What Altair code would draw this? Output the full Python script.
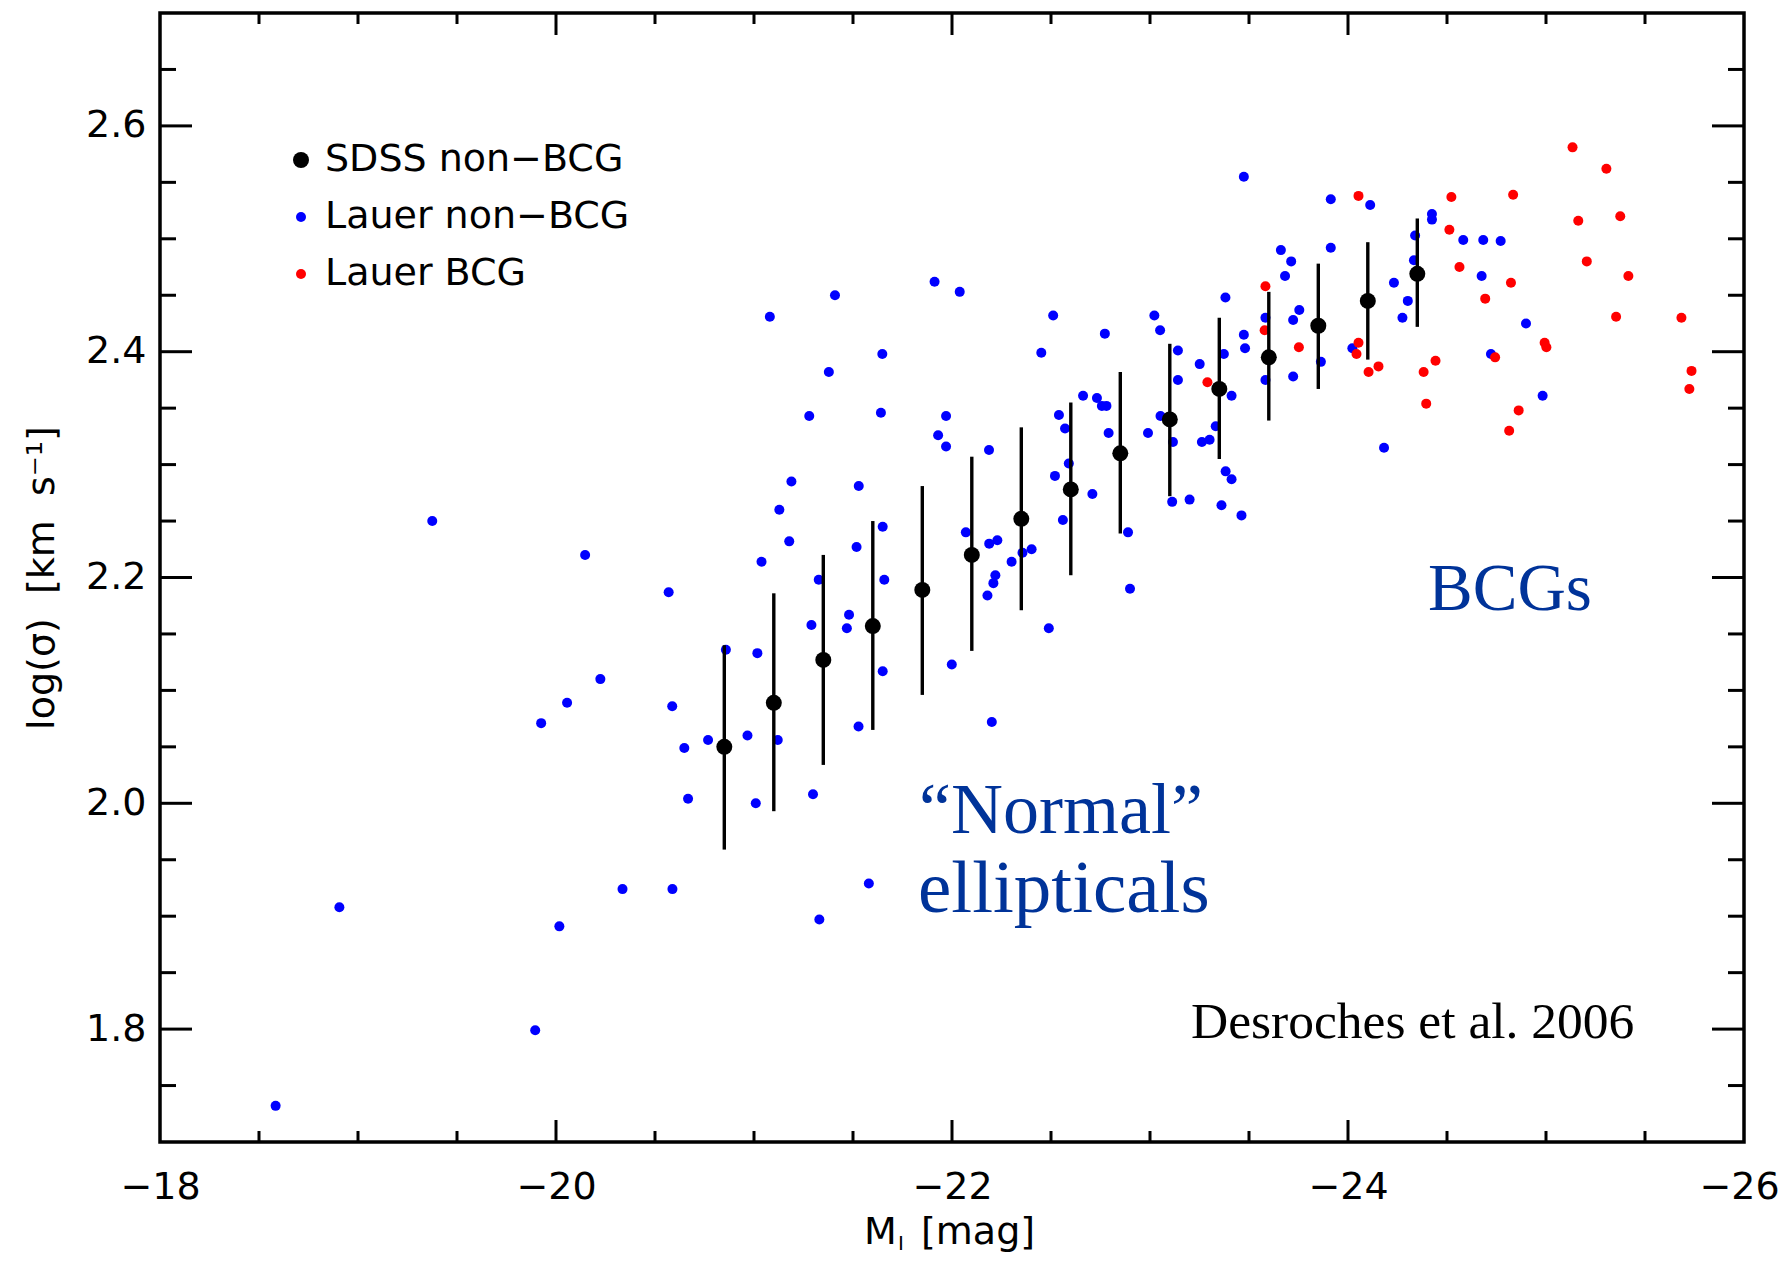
import altair as alt
import pandas as pd

# ---------------- data ----------------
sdss_mag = [-20.85, -21.10, -21.35, -21.60, -21.85, -22.10, -22.35, -22.60,
            -22.85, -23.10, -23.35, -23.60, -23.85, -24.10, -24.35]
sdss_logsig = [2.050, 2.089, 2.127, 2.157, 2.189, 2.220, 2.252, 2.278,
               2.310, 2.340, 2.367, 2.395, 2.423, 2.445, 2.469]
sdss_hi = [2.140, 2.186, 2.220, 2.250, 2.281, 2.307, 2.333, 2.355,
           2.382, 2.407, 2.430, 2.453, 2.478, 2.497, 2.518]
sdss_lo = [1.959, 1.993, 2.034, 2.065, 2.096, 2.135, 2.171, 2.202,
           2.239, 2.272, 2.305, 2.339, 2.367, 2.393, 2.422]

lauer_nonbcg_mag = [
    -18.584, -18.906, -19.375, -19.895, -19.925, -20.017, -20.056, -20.147, -20.224, -20.336,
    -20.569, -20.587, -20.588, -20.648, -20.667, -20.768, -20.858, -20.967, -21.009, -21.017,
    -21.038, -21.080, -21.120, -21.128, -21.178, -21.189, -21.279, -21.290, -21.298, -21.327,
    -21.330, -21.378, -21.409, -21.469, -21.480, -21.518, -21.528, -21.529, -21.580, -21.641,
    -21.648, -21.650, -21.650, -21.658, -21.912, -21.930, -21.970, -21.970, -21.999, -22.039,
    -22.070, -22.187, -22.179, -22.188, -22.201, -22.209, -22.219, -22.229, -22.301, -22.356,
    -22.402, -22.451, -22.489, -22.511, -22.520, -22.540, -22.560, -22.571, -22.590, -22.662,
    -22.709, -22.732, -22.757, -22.780, -22.772, -22.791, -22.889, -22.899, -22.990, -23.022,
    -23.051, -23.053, -23.112, -23.116, -23.141, -23.141, -23.200, -23.251, -23.262, -23.301,
    -23.332, -23.361, -23.373, -23.381, -23.382, -23.412, -23.412, -23.462, -23.474, -23.474,
    -23.480, -23.583, -23.583, -23.661, -23.682, -23.713, -23.723, -23.723, -23.754, -23.863,
    -23.913, -23.913, -24.022, -24.112, -24.182, -24.232, -24.275, -24.302, -24.333, -24.339,
    -24.424, -24.424, -24.582, -24.675, -24.683, -24.722, -24.771, -24.899, -24.983]
lauer_nonbcg_logsig = [
    1.732, 1.908, 2.250, 1.799, 2.071, 1.891, 2.089, 2.220, 2.110, 1.924,
    2.187, 2.086, 1.924, 2.049, 2.004, 2.056, 2.136, 2.060, 2.000, 2.133,
    2.214, 2.431, 2.056, 2.260, 2.232, 2.285, 2.343, 2.158, 2.008, 2.198,
    1.897, 2.382, 2.450, 2.155, 2.167, 2.227, 2.068, 2.281, 1.929, 2.346,
    2.398, 2.245, 2.117, 2.198, 2.462, 2.326, 2.343, 2.316, 2.123, 2.453,
    2.240, 2.313, 2.184, 2.230, 2.072, 2.195, 2.202, 2.233, 2.214, 2.222,
    2.225, 2.399, 2.155, 2.432, 2.290, 2.344, 2.251, 2.332, 2.301, 2.361,
    2.274, 2.359, 2.352, 2.352, 2.416, 2.328, 2.240, 2.190, 2.328, 2.432,
    2.419, 2.343, 2.267, 2.320, 2.401, 2.375, 2.269, 2.389, 2.320, 2.322,
    2.334, 2.264, 2.398, 2.448, 2.294, 2.287, 2.361, 2.255, 2.555, 2.415,
    2.403, 2.430, 2.375, 2.490, 2.467, 2.480, 2.428, 2.378, 2.437, 2.391,
    2.535, 2.492, 2.403, 2.530, 2.315, 2.461, 2.430, 2.445, 2.481, 2.503,
    2.522, 2.517, 2.499, 2.467, 2.499, 2.398, 2.498, 2.425, 2.361]

lauer_bcg_mag = [
    -23.290, -23.579, -23.583, -23.752, -24.043, -24.053, -24.053, -24.104, -24.154, -24.382,
    -24.395, -24.442, -24.512, -24.522, -24.563, -24.693, -24.743, -24.814, -24.823, -24.834,
    -24.862, -24.993, -25.002, -25.134, -25.163, -25.206, -25.305, -25.354, -25.375, -25.416,
    -25.684, -25.724, -25.735]
lauer_bcg_logsig = [
    2.373, 2.419, 2.458, 2.404, 2.398, 2.408, 2.538, 2.382, 2.387, 2.382,
    2.354, 2.392, 2.508, 2.537, 2.475, 2.447, 2.395, 2.330, 2.461, 2.539,
    2.348, 2.408, 2.404, 2.581, 2.516, 2.480, 2.562, 2.431, 2.520, 2.467,
    2.430, 2.367, 2.383]

series_names = ["SDSS non\u2212BCG", "Lauer non\u2212BCG", "Lauer BCG"]
series_colors = ["#000000", "#0000ff", "#ff0000"]
series_sizes = [256, 100, 100]

x_labels = [-18, -20, -22, -24, -26]
x_major_ticks = [-20, -22, -24]
x_minor_ticks = [-18.5, -19, -19.5, -20.5, -21, -21.5, -22.5, -23, -23.5,
                 -24.5, -25, -25.5]
y_labels = [1.8, 2.0, 2.2, 2.4, 2.6]
y_minor_ticks = [1.75, 1.85, 1.9, 1.95, 2.05, 2.1, 2.15, 2.25, 2.3, 2.35,
                 2.45, 2.5, 2.55, 2.65]

# ---------------- layout ----------------
W, H = 1584, 1129
SANS = "DejaVu Sans"
SERIF = "Liberation Serif"
ANN_BLUE = "#003399"
FS = 38

xscale = alt.Scale(domain=[-26, -18], reverse=True, nice=False, zero=False)
yscale = alt.Scale(domain=[1.7, 2.7], nice=False, zero=False)

# the rightmost label is nudged a few pixels so it is not clipped at the page edge
xaxis = alt.Axis(values=x_labels, format="d", ticks=False, domain=False, grid=False,
                 title=None, labelFont=SANS, labelFontSize=FS, labelColor="black",
                 labelPadding=26, labelFlush=False, labelOverlap=False, labelBound=False,
                 labelOffset={"condition": {"test": "datum.value <= -26", "value": -5},
                              "value": 0})
yaxis = alt.Axis(values=y_labels, format=".1f", ticks=False, domain=False, grid=False,
                 title="log(\u03c3)\u00a0\u00a0[km\u00a0\u00a0s\u207b\u00b9]",
                 titleFont=SANS, titleFontSize=FS, titleFontWeight="normal",
                 titleColor="black", titlePadding=24,
                 labelFont=SANS, labelFontSize=FS, labelColor="black",
                 labelPadding=14, labelFlush=False, labelOverlap=False, labelBound=False)

legend = alt.Legend(orient="none", legendX=122, legendY=128, title=None,
                    labelFont=SANS, labelFontSize=FS, labelColor="black",
                    labelOffset=5, labelLimit=0, rowPadding=19, padding=0,
                    symbolType="circle", symbolStrokeWidth=0, symbolOpacity=1)
color_enc = alt.Color("series:N", scale=alt.Scale(domain=series_names, range=series_colors),
                      legend=legend)
size_enc = alt.Size("series:N", scale=alt.Scale(type="ordinal", domain=series_names,
                                                 range=series_sizes),
                    legend=legend)

# ---------------- tick marks (inward, on all four sides) ----------------
XMAJ, XMIN = 22, 11
YMAJ, YMIN = 32, 16


def xticks(vals, length, top):
    y0, y1 = (0, length) if top else (H, H - length)
    return alt.Chart(pd.DataFrame({"v": vals})).mark_rule(
        color="black", strokeWidth=3).encode(
        x=alt.X("v:Q", scale=xscale, axis=xaxis),
        y=alt.value(y0), y2=alt.value(y1))


def yticks(vals, length, right):
    x0, x1 = (W, W - length) if right else (0, length)
    return alt.Chart(pd.DataFrame({"v": vals})).mark_rule(
        color="black", strokeWidth=3).encode(
        y=alt.Y("v:Q", scale=yscale, axis=yaxis),
        x=alt.value(x0), x2=alt.value(x1))


tick_layers = [
    xticks(x_major_ticks, XMAJ, False), xticks(x_major_ticks, XMAJ, True),
    xticks(x_minor_ticks, XMIN, False), xticks(x_minor_ticks, XMIN, True),
    yticks(y_labels, YMAJ, False), yticks(y_labels, YMAJ, True),
    yticks(y_minor_ticks, YMIN, False), yticks(y_minor_ticks, YMIN, True),
]

# ---------------- data marks ----------------
lauer_df = pd.concat([
    pd.DataFrame({"mag": lauer_nonbcg_mag, "logsig": lauer_nonbcg_logsig,
                  "series": series_names[1]}),
    pd.DataFrame({"mag": lauer_bcg_mag, "logsig": lauer_bcg_logsig,
                  "series": series_names[2]}),
], ignore_index=True)
sdss_df = pd.DataFrame({"mag": sdss_mag, "logsig": sdss_logsig, "hi": sdss_hi,
                        "lo": sdss_lo, "series": series_names[0]})

lauer_pts = alt.Chart(lauer_df).mark_circle(opacity=1).encode(
    x=alt.X("mag:Q", scale=xscale, axis=xaxis),
    y=alt.Y("logsig:Q", scale=yscale, axis=yaxis),
    color=color_enc, size=size_enc)

err = alt.Chart(sdss_df).mark_rule(color="black", strokeWidth=3.4).encode(
    x=alt.X("mag:Q", scale=xscale, axis=xaxis),
    y=alt.Y("lo:Q", scale=yscale, axis=yaxis),
    y2="hi:Q")

sdss_pts = alt.Chart(sdss_df).mark_circle(opacity=1).encode(
    x=alt.X("mag:Q", scale=xscale, axis=xaxis),
    y=alt.Y("logsig:Q", scale=yscale, axis=yaxis),
    color=color_enc, size=size_enc)


# ---------------- text annotations ----------------
def label(txt, px, py, size, font, color, align="left", baseline="alphabetic"):
    return alt.Chart(pd.DataFrame({"t": [txt]})).mark_text(
        align=align, baseline=baseline, font=font, fontSize=size, color=color,
        x=px, y=py).encode(text="t:N")


texts = [
    label("BCGs", 1268, 597, 67, SERIF, ANN_BLUE),
    label("\u201cNormal\u201d", 759, 820, 72, SERIF, ANN_BLUE),
    label("ellipticals", 758, 899, 75, SERIF, ANN_BLUE),
    label("Desroches et al. 2006", 1031, 1025, 51.5, SERIF, "black"),
    # x-axis title: M_I [mag]
    label("M", 704, 1231, FS, SANS, "black"),
    label("I", 738, 1237, 20, SANS, "black"),
    label("[mag]", 761, 1231, FS, SANS, "black"),
]

chart = alt.layer(*tick_layers, lauer_pts, err, sdss_pts, *texts).properties(
    width=W, height=H,
    padding={"left": 152, "top": 5, "right": 36, "bottom": 112},
    autosize=alt.AutoSizeParams(type="none"),
    background="white",
).configure_view(stroke="black", strokeWidth=3.5)

chart.save("out.html", embed_options={"renderer": "svg", "actions": False})
